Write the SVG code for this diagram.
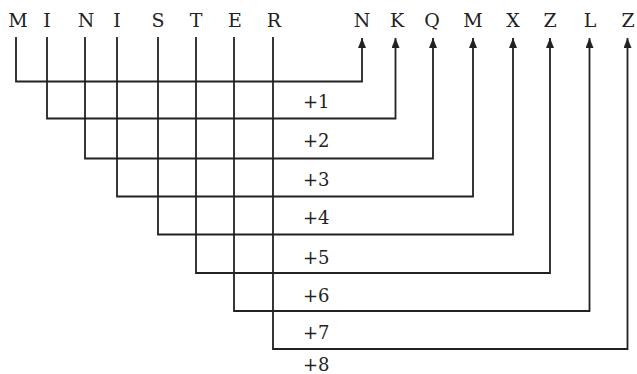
<svg xmlns="http://www.w3.org/2000/svg" width="637" height="374" viewBox="0 0 637 374">
<style>
.l{font-family:"DejaVu Serif","Liberation Serif",serif;font-size:19px;fill:#222;text-anchor:middle}
.p{font-family:"DejaVu Serif","Liberation Serif",serif;font-size:18px;fill:#222}
.c{fill:none;stroke:#222;stroke-width:1.8}
</style>
<defs>
<marker id="ah" viewBox="0 0 10 8" refX="10" refY="4" markerWidth="10" markerHeight="8" markerUnits="userSpaceOnUse" orient="auto">
<path d="M0,0 L10,4 L0,8 z" fill="#222"/>
</marker>
</defs>
<rect width="637" height="374" fill="#fff"/>
<g id="source">
<text class="l" x="18" y="27">M</text>
<text class="l" x="47" y="27">I</text>
<text class="l" x="86" y="27">N</text>
<text class="l" x="117" y="27">I</text>
<text class="l" x="158" y="27">S</text>
<text class="l" x="196" y="27">T</text>
<text class="l" x="235" y="27">E</text>
<text class="l" x="274" y="27">R</text>
</g>
<g id="target">
<text class="l" x="362" y="27">N</text>
<text class="l" x="397" y="27">K</text>
<text class="l" x="432" y="27">Q</text>
<text class="l" x="473" y="27">M</text>
<text class="l" x="513" y="27">X</text>
<text class="l" x="550" y="27">Z</text>
<text class="l" x="590" y="27">L</text>
<text class="l" x="628" y="27">Z</text>
</g>
<g id="connectors">
<path class="c" marker-end="url(#ah)" d="M16,37 V81.5 H362 V38"/>
<path class="c" marker-end="url(#ah)" d="M47,37 V118.5 H395.5 V38"/>
<path class="c" marker-end="url(#ah)" d="M85,37 V158.5 H433 V38"/>
<path class="c" marker-end="url(#ah)" d="M117,37 V196.5 H473 V38"/>
<path class="c" marker-end="url(#ah)" d="M158,37 V234.5 H513 V38"/>
<path class="c" marker-end="url(#ah)" d="M196,37 V273 H550 V38"/>
<path class="c" marker-end="url(#ah)" d="M234,37 V311 H589.5 V38"/>
<path class="c" marker-end="url(#ah)" d="M273,37 V349 H627.5 V38"/>
</g>
<g id="labels">
<text class="p" x="303" y="108">+1</text>
<text class="p" x="303" y="147">+2</text>
<text class="p" x="303" y="186">+3</text>
<text class="p" x="303" y="224">+4</text>
<text class="p" x="303" y="264">+5</text>
<text class="p" x="303" y="302">+6</text>
<text class="p" x="303" y="339">+7</text>
<text class="p" x="303" y="371">+8</text>
</g>
</svg>
